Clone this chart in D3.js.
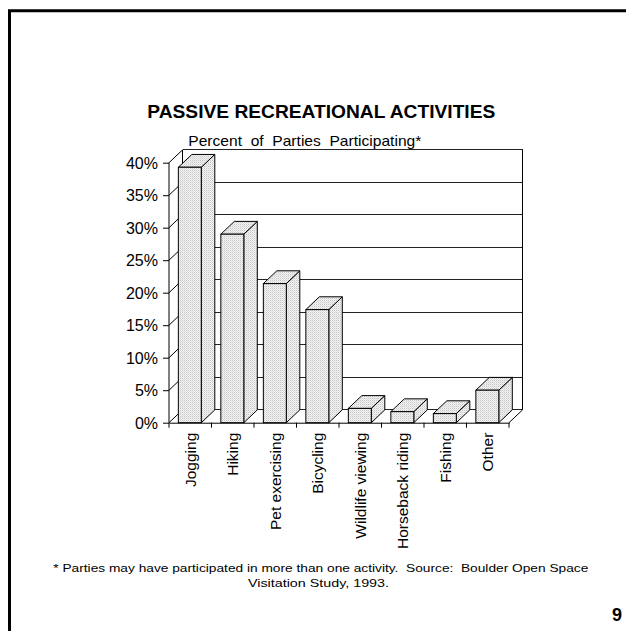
<!DOCTYPE html>
<html>
<head>
<meta charset="utf-8">
<script src="https://cdn.jsdelivr.net/npm/d3@7"></script>
<style>
  html, body { margin: 0; padding: 0; background: #fff; }
  svg { display: block; }
  text { font-family: "Liberation Sans", Arial, sans-serif; fill: #000; }
</style>
</head>
<body>
<svg id="chart" width="626" height="631"></svg>
<script>
// ---- data ----
const categories = ["Jogging", "Hiking", "Pet exercising", "Bicycling", "Wildlife viewing", "Horseback riding", "Fishing", "Other"];
const values = [39.3, 29.0, 21.4, 17.4, 2.2, 1.7, 1.4, 5.0];
const yTicks = [0, 5, 10, 15, 20, 25, 30, 35, 40];
const yTickLabels = ["0%", "5%", "10%", "15%", "20%", "25%", "30%", "35%", "40%"];
const title = "PASSIVE RECREATIONAL ACTIVITIES";
const subtitle = "Percent  of  Parties  Participating*";
const footnote1 = "* Parties may have participated in more than one activity.  Source:  Boulder Open Space";
const footnote2 = "Visitation Study, 1993.";
const pageNumber = "9";

// ---- layout ----
const svg = d3.select("#chart");
const X0 = 169, X1 = 509, Y0 = 422.7, Y1 = 162.7;
const DX = 13.5, DY = -12.8;

const x = d3.scaleBand().domain(categories).range([X0, X1]).padding(0);
const y = d3.scaleLinear().domain([0, 40]).range([Y0, Y1]);

// pattern for bar faces
const defs = svg.append("defs");
const pat = defs.append("pattern").attr("id", "dots").attr("width", 2).attr("height", 2)
  .attr("patternUnits", "userSpaceOnUse");
pat.append("rect").attr("width", 2).attr("height", 2).attr("fill", "#f2f2f2");
pat.append("rect").attr("x", 0).attr("y", 0).attr("width", 1).attr("height", 1).attr("fill", "#c6c6c6");
pat.append("rect").attr("x", 1).attr("y", 1).attr("width", 1).attr("height", 1).attr("fill", "#e0e0e0");

// page frame
svg.append("path")
  .attr("d", "M9.5,631 V10.75 H626")
  .attr("fill", "none").attr("stroke", "#000").attr("stroke-width", 3);

// title & subtitle
svg.append("text").attr("x", 147.3).attr("y", 118.3)
  .attr("font-size", 19).attr("font-weight", "bold")
  .attr("textLength", 348).attr("lengthAdjust", "spacingAndGlyphs")
  .text(title);
svg.append("text").attr("x", 188.3).attr("y", 145.5)
  .attr("font-size", 14.5)
  .attr("textLength", 233).attr("lengthAdjust", "spacingAndGlyphs")
  .style("white-space", "pre")
  .text(subtitle);

const g = svg.append("g");
const line = (x1, y1, x2, y2, color) => g.append("line")
  .attr("x1", x1).attr("y1", y1).attr("x2", x2).attr("y2", y2)
  .attr("stroke", color || "#000").attr("stroke-width", 1).attr("shape-rendering", "crispEdges");

// back wall gridlines
yTicks.forEach(t => {
  line(X0 + DX, y(t) + DY, X1 + DX, y(t) + DY, "#222");
});
// back wall right edge and left edge
line(X1 + DX, y(40) + DY, X1 + DX, y(0) + DY);
line(X0 + DX, y(40) + DY, X0 + DX, y(0) + DY);
// left wall diagonals
yTicks.forEach(t => {
  g.append("line").attr("x1", X0).attr("y1", y(t)).attr("x2", X0 + DX).attr("y2", y(t) + DY)
    .attr("stroke", "#000").attr("stroke-width", 1);
});
// floor right edge
g.append("line").attr("x1", X1).attr("y1", y(0)).attr("x2", X1 + DX).attr("y2", y(0) + DY)
  .attr("stroke", "#000").attr("stroke-width", 1);

// bars
const barOff = 0.22, barW = 0.54;
const bars = g.selectAll("g.bar").data(categories.map((c, i) => ({ c, v: values[i] }))).enter()
  .append("g").attr("class", "bar");
bars.each(function(d) {
  const sel = d3.select(this);
  const xl = x(d.c) + x.bandwidth() * barOff;
  const xr = xl + x.bandwidth() * barW;
  const yt = y(d.v), yb = y(0);
  // side
  sel.append("path")
    .attr("d", `M${xr},${yb} L${xr + DX},${yb + DY} L${xr + DX},${yt + DY} L${xr},${yt} Z`)
    .attr("fill", "url(#dots)").attr("stroke", "#000").attr("stroke-width", 1).attr("stroke-linejoin", "round");
  // top
  sel.append("path")
    .attr("d", `M${xl},${yt} L${xl + DX},${yt + DY} L${xr + DX},${yt + DY} L${xr},${yt} Z`)
    .attr("fill", "url(#dots)").attr("stroke", "#000").attr("stroke-width", 1).attr("stroke-linejoin", "round");
  // front
  sel.append("rect")
    .attr("x", xl).attr("y", yt).attr("width", xr - xl).attr("height", yb - yt)
    .attr("fill", "url(#dots)").attr("stroke", "#000").attr("stroke-width", 1);
});

// y axis (front)
const yAxis = d3.axisLeft(y).tickValues(yTicks).tickSize(6).tickFormat((d, i) => yTickLabels[i]);
const ya = svg.append("g").attr("transform", `translate(${X0},0)`).call(yAxis);
ya.select(".domain").attr("stroke", "#000").attr("d", `M-0,${Y0}V${Y1}`);
ya.selectAll(".tick line").attr("stroke", "#000");
ya.selectAll(".tick text").attr("font-size", 16).attr("font-family", "Liberation Sans, Arial, sans-serif")
  .attr("fill", "#000").attr("x", -11).attr("dy", "0.36em");

// x axis (front)
const xAxis = d3.axisBottom(x).tickSize(0).tickSizeOuter(0);
const xa = svg.append("g").attr("transform", `translate(0,${Y0})`).call(xAxis);
xa.select(".domain").attr("stroke", "#000");
// boundary ticks
xa.selectAll("line.bnd").data(d3.range(categories.length + 1)).enter().append("line")
  .attr("class", "bnd")
  .attr("x1", i => X0 + i * x.step()).attr("x2", i => X0 + i * x.step())
  .attr("y1", 0).attr("y2", 5).attr("stroke", "#000");
xa.selectAll(".tick text")
  .attr("font-size", 15.5).attr("font-family", "Liberation Sans, Arial, sans-serif").attr("fill", "#000")
  .attr("transform", "rotate(-90)")
  .attr("text-anchor", "end")
  .attr("x", -10).attr("y", 0).attr("dy", "0.35em");

// footnote
svg.append("text").attr("x", 53.3).attr("y", 571.7)
  .attr("font-size", 11.5)
  .attr("textLength", 535).attr("lengthAdjust", "spacingAndGlyphs")
  .style("white-space", "pre")
  .text(footnote1);
svg.append("text").attr("x", 248).attr("y", 586.5)
  .attr("font-size", 11.5)
  .attr("textLength", 141).attr("lengthAdjust", "spacingAndGlyphs")
  .text(footnote2);

// page number
svg.append("text").attr("x", 622).attr("y", 621).attr("text-anchor", "end")
  .attr("font-size", 18).attr("font-weight", "bold").attr("font-family", "DejaVu Sans, sans-serif")
  .text(pageNumber);
</script>
</body>
</html>
